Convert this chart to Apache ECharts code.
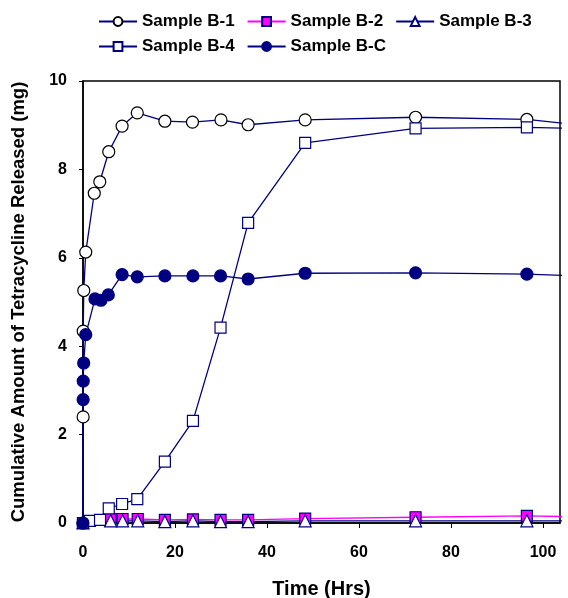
<!DOCTYPE html>
<html>
<head>
<meta charset="utf-8">
<script src="https://cdn.jsdelivr.net/npm/echarts@6/dist/echarts.min.js"></script>
<style>
  html, body { margin: 0; padding: 0; background: #fff; }
  #chart { width: 568px; height: 598px; }
</style>
</head>
<body>
<div id="chart"></div>
<script>
// time (hrs) and released amount (mg)
const timeB1 = [0, 0.03, 0.05, 0.17, 0.6, 2.45, 3.65, 5.6, 8.5, 11.8, 17.8, 23.8, 30, 35.9, 48.3, 72.3, 96.5, 120]
const valB1 = [0, 2.40, 4.34, 5.26, 6.13, 7.46, 7.72, 8.40, 8.98, 9.28, 9.09, 9.07, 9.12, 9.01, 9.12, 9.18, 9.13, 8.88]

const timeB2 = [0, 6, 8.6, 11.9, 17.8, 23.9, 29.9, 35.9, 48.3, 72.3, 96.5, 120]
const valB2 = [0, 0.09, 0.09, 0.09, 0.07, 0.08, 0.07, 0.07, 0.10, 0.13, 0.16, 0.12]

const timeB3 = [0, 6, 8.6, 11.9, 17.8, 23.9, 29.9, 35.9, 48.3, 72.3, 96.5, 120]
const valB3 = [0, 0.05, 0.05, 0.05, 0.03, 0.05, 0.03, 0.03, 0.05, 0.05, 0.05, 0.05]

const timeB4 = [0, 1.5, 3.7, 5.6, 8.5, 11.8, 17.8, 23.9, 29.9, 35.9, 48.3, 72.3, 96.5, 120]
const valB4 = [0, 0.05, 0.07, 0.33, 0.43, 0.54, 1.39, 2.31, 4.42, 6.79, 8.60, 8.93, 8.95, 8.90]

const timeBC = [0, 0.03, 0.05, 0.15, 0.6, 2.6, 3.9, 5.5, 8.5, 11.8, 17.8, 23.9, 29.9, 35.9, 48.3, 72.3, 96.5, 120]
const valBC = [0, 2.79, 3.21, 3.62, 4.26, 5.07, 5.04, 5.16, 5.62, 5.57, 5.59, 5.59, 5.59, 5.52, 5.65, 5.66, 5.63, 5.55]

const xTicks = [0, 20, 40, 60, 80, 100]

const pairs = (xs, ys) => xs.map((x, i) => [x, ys[i]])

const NAVY = '#000080'
const MAGENTA = '#ff00ff'
const FONT = '"Liberation Sans", Arial, sans-serif'

const chart = echarts.init(document.getElementById('chart'))

const lineSeries = (name, data, lineColor, symbol, size, fill, border) => ({
  name: name,
  type: 'line',
  data: data,
  symbol: symbol,
  symbolSize: size,
  showAllSymbol: true,
  clip: true,
  lineStyle: { color: lineColor, width: 1.3 },
  itemStyle: { color: fill, borderColor: border, borderWidth: 1.2 },
  emphasis: { disabled: true },
  animation: false
})

const legendBase = {
  left: 93,
  itemWidth: 38,
  itemHeight: 11,
  itemGap: 12,
  textStyle: { fontFamily: FONT, fontWeight: 'bold', fontSize: 17, color: '#000' }
}

const option = {
  backgroundColor: '#fff',
  animation: false,
  legend: [
    Object.assign({}, legendBase, { top: 8, data: ['Sample B-1', 'Sample B-2', 'Sample B-3'] }),
    Object.assign({}, legendBase, { top: 33, data: ['Sample B-4', 'Sample B-C'] })
  ],
  grid: {
    left: 83,
    right: 8,
    top: 81,
    bottom: 75,
    outerBoundsMode: 'none',
    show: true,
    borderColor: '#000',
    borderWidth: 1.5
  },
  xAxis: {
    type: 'value',
    min: 0,
    max: 103.7,
    name: 'Time (Hrs)',
    nameLocation: 'middle',
    nameGap: 56,
    nameTextStyle: { fontFamily: FONT, fontWeight: 'bold', fontSize: 20, color: '#000' },
    axisLine: { onZero: false, lineStyle: { color: '#000', width: 1.5 } },
    axisTick: { customValues: xTicks, length: 5, lineStyle: { color: '#000' } },
    axisLabel: {
      customValues: xTicks,
      margin: 22,
      fontFamily: FONT,
      fontWeight: 'bold',
      fontSize: 16,
      color: '#000'
    },
    splitLine: { show: false }
  },
  yAxis: {
    type: 'value',
    min: 0,
    max: 10,
    interval: 2,
    name: 'Cumulative Amount of Tetracycline Released (mg)',
    nameLocation: 'middle',
    nameGap: 55,
    nameTextStyle: { fontFamily: FONT, fontWeight: 'bold', fontSize: 18.5, color: '#000' },
    axisLine: { show: true, onZero: false, lineStyle: { color: '#000', width: 1.5 } },
    axisTick: { show: true, length: 4, lineStyle: { color: '#000' } },
    axisLabel: {
      margin: 16,
      fontFamily: FONT,
      fontWeight: 'bold',
      fontSize: 16,
      color: '#000'
    },
    splitLine: { show: false }
  },
  series: [
    lineSeries('Sample B-1', pairs(timeB1, valB1), NAVY, 'circle', 12, '#fff', '#000'),
    lineSeries('Sample B-2', pairs(timeB2, valB2), MAGENTA, 'rect', 11, MAGENTA, NAVY),
    lineSeries('Sample B-3', pairs(timeB3, valB3), NAVY, 'triangle', 12, '#fff', NAVY),
    lineSeries('Sample B-4', pairs(timeB4, valB4), NAVY, 'rect', 11, '#fff', NAVY),
    lineSeries('Sample B-C', pairs(timeBC, valBC), NAVY, 'circle', 12, NAVY, NAVY)
  ]
}

chart.setOption(option)

window.addEventListener('resize', () => {
  chart.resize()
})
</script>
</body>
</html>
